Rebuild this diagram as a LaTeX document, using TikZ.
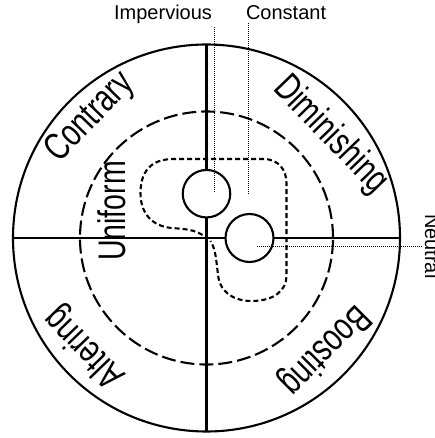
\documentclass[tikz,border=0pt]{standalone}
\usepackage{fontspec}
\setmainfont{Liberation Sans}
\usepackage{tikz}
\usetikzlibrary{calc}

\begin{document}
\begin{tikzpicture}[x=1pt,y=1pt,line width=2.1pt,
  ring/.style={circle,draw,outer sep=0pt,inner sep=0pt},
  biglabel/.style={font=\fontsize{28.5}{32}\selectfont,inner sep=0pt,yscale=1.35},
  smalllabel/.style={font=\fontsize{20}{24}\selectfont,inner sep=2pt},
  dotline/.style={line width=1pt,dash pattern=on 1pt off 1pt},
  zone/.style={dash pattern=on 14pt off 5pt},
  blob/.style={dash pattern=on 5pt off 3pt}]
  \useasboundingbox (-206.5,-200) rectangle (228.5,238);
  \node[ring,minimum size=387pt] (rim) at (0,0) {};
  \node[ring,minimum size=47.5pt] (upc) at (0,44.3) {};
  \node[ring,minimum size=48pt] (lowc) at (43,0) {};
  \draw[zone] (0,0) circle[radius=126.5pt];
  \draw (rim.north) -- (upc.north);
  \draw (upc.south) -- (rim.south);
  \draw (rim.west) -- (lowc.west);
  \draw (lowc.east) -- (rim.east);
  \draw[blob] (-4,3) .. controls (-12,8) and (-20,9) .. (-35,10)
    .. controls (-55,12) and (-66,25) .. (-66,45)
    .. controls (-66,66) and (-56,79) .. (-33,79) -- (57,79)
    .. controls (72,79) and (80,68) .. (80,55) -- (80,-38)
    .. controls (80,-52) and (68,-63) .. (45,-63)
    .. controls (25,-63) and (14,-52) .. (12,-40)
    .. controls (10,-28) and (10,-12) .. (4,-3);
  \node[rotate=46,biglabel] (contrary) at (134:167) {Contrary};
  \node[rotate=-46,biglabel] (dimin) at (39.6:161) {Diminishing};
  \node[rotate=-135,biglabel] (boost) at (-43.4:162) {Boosting};
  \node[rotate=134,biglabel] (alter) at (-138:163) {Altering};
  \node[rotate=90,biglabel] (uniform) at (-94.5,27) {Uniform};
  \node[smalllabel,anchor=base east] (imp) at (8.5,218) {Impervious};
  \node[smalllabel,anchor=base west] (const) at (36.5,218) {Constant};
  \node[smalllabel,rotate=-90,anchor=base west] (neu) at (218.5,27) {Neutral};
  \coordinate (imppt) at (7.5,45.7);
  \coordinate (constpt) at (41.5,44);
  \coordinate (neupt) at (50.2,-7.7);
  \draw[dotline] (imppt |- imp.south) -- (imppt);
  \draw[dotline] (constpt |- const.south) -- (constpt);
  \draw[dotline] (neu.south) -- (neu.south -| neupt);
\end{tikzpicture}
\end{document}
